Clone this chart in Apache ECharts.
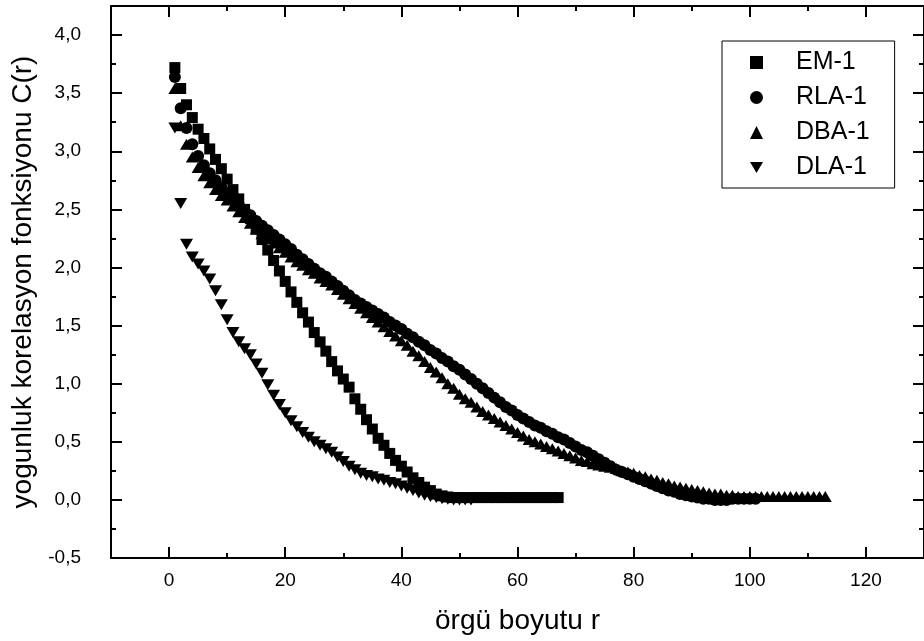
<!DOCTYPE html>
<html>
<head>
<meta charset="utf-8">
<script src="https://cdn.jsdelivr.net/npm/echarts@6/dist/echarts.min.js"></script>
<style>
  html, body { margin: 0; padding: 0; background: #fff; }
  #chart { width: 924px; height: 641px; }
</style>
</head>
<body>
<div id="chart"></div>
<script>
// C(r) values, one per lattice size r = 1, 2, 3 ...
const em1 = [3.72, 3.54, 3.40, 3.29, 3.19, 3.11, 3.02, 2.93, 2.85, 2.76,
  2.67, 2.59, 2.50, 2.42, 2.33, 2.24, 2.15, 2.06, 1.97, 1.88,
  1.79, 1.70, 1.61, 1.53, 1.44, 1.36, 1.28, 1.19, 1.11, 1.04,
  0.97, 0.87, 0.78, 0.69, 0.61, 0.53, 0.47, 0.40, 0.34, 0.29,
  0.24, 0.19, 0.15, 0.11, 0.08, 0.05, 0.035, 0.025, 0.02, 0.02,
  0.02, 0.02, 0.02, 0.02, 0.02, 0.02, 0.02, 0.02, 0.02, 0.02,
  0.02, 0.02, 0.02, 0.02, 0.02, 0.02, 0.02];

const rla1 = [3.64, 3.37, 3.20, 3.06, 2.96, 2.88, 2.81, 2.75, 2.69, 2.64,
  2.59, 2.54, 2.49, 2.45, 2.40, 2.36, 2.32, 2.28, 2.24, 2.20,
  2.16, 2.11, 2.07, 2.03, 1.99, 1.95, 1.92, 1.88, 1.84, 1.80,
  1.76, 1.72, 1.69, 1.66, 1.63, 1.60, 1.57, 1.53, 1.50, 1.47,
  1.43, 1.40, 1.36, 1.33, 1.29, 1.26, 1.22, 1.19, 1.15, 1.12,
  1.08, 1.04, 1.00, 0.96, 0.92, 0.88, 0.84, 0.80, 0.77, 0.73,
  0.70, 0.67, 0.64, 0.62, 0.59, 0.57, 0.54, 0.52, 0.49, 0.46,
  0.43, 0.41, 0.38, 0.35, 0.32, 0.29, 0.26, 0.24, 0.22, 0.20,
  0.18, 0.16, 0.14, 0.12, 0.10, 0.08, 0.07, 0.05, 0.04, 0.03,
  0.02, 0.01, 0.01, 0.00, 0.00, 0.00, 0.01, 0.01, 0.01, 0.01,
  0.01];

const dba1 = [3.54, 3.22, 3.06, 2.95, 2.86, 2.79, 2.73, 2.67, 2.62, 2.58,
  2.53, 2.48, 2.43, 2.38, 2.33, 2.29, 2.25, 2.21, 2.17, 2.13,
  2.09, 2.05, 2.02, 1.98, 1.95, 1.91, 1.88, 1.85, 1.81, 1.77,
  1.73, 1.69, 1.65, 1.61, 1.57, 1.53, 1.49, 1.45, 1.41, 1.37,
  1.33, 1.28, 1.24, 1.19, 1.14, 1.10, 1.05, 1.00, 0.96, 0.91,
  0.87, 0.84, 0.80, 0.76, 0.73, 0.70, 0.67, 0.64, 0.61, 0.58,
  0.55, 0.52, 0.50, 0.48, 0.46, 0.44, 0.42, 0.40, 0.38, 0.36,
  0.34, 0.33, 0.31, 0.30, 0.29, 0.28, 0.27, 0.25, 0.24, 0.23,
  0.21, 0.20, 0.18, 0.17, 0.15, 0.14, 0.12, 0.11, 0.10, 0.09,
  0.08, 0.07, 0.06, 0.05, 0.05, 0.04, 0.04, 0.03, 0.03, 0.03,
  0.03, 0.03, 0.03, 0.03, 0.03, 0.03, 0.03, 0.03, 0.03, 0.03,
  0.03, 0.03, 0.03];

const dla1 = [3.20, 2.55, 2.20, 2.09, 2.03, 1.97, 1.90, 1.80, 1.68, 1.55,
  1.44, 1.36, 1.30, 1.25, 1.17, 1.09, 0.99, 0.90, 0.82, 0.75,
  0.68, 0.63, 0.58, 0.54, 0.50, 0.47, 0.44, 0.41, 0.37, 0.33,
  0.29, 0.26, 0.23, 0.21, 0.20, 0.18, 0.17, 0.15, 0.14, 0.12,
  0.10, 0.08, 0.06, 0.04, 0.03, 0.02, 0.01, 0.005, 0.00, 0.00,
  0.00, 0.00];

const xMajor = [0, 20, 40, 60, 80, 100, 120];
const xMinor = [10, 30, 50, 70, 90, 110];
const yMajor = [-0.5, 0, 0.5, 1.0, 1.5, 2.0, 2.5, 3.0, 3.5, 4.0];
const yMinor = [-0.25, 0.25, 0.75, 1.25, 1.75, 2.25, 2.75, 3.25, 3.75];

const FONT = '"Liberation Sans", Arial, sans-serif';
const downTri = 'path://M0,0 L12,0 L6,10 Z';

function pts(vals) {
  return vals.map((v, i) => [i + 1, v]);
}

function xAx(pos, ticks, len, main) {
  return {
    type: 'value', position: pos, min: -10, max: 130,
    axisLine: { show: main, onZero: false, lineStyle: { color: '#000', width: 2 } },
    axisTick: { show: true, inside: true, length: len, customValues: ticks,
      lineStyle: { color: '#000', width: 2 } },
    axisLabel: { show: main && pos === 'bottom', customValues: ticks, margin: 13,
      color: '#000', fontSize: 19, fontFamily: FONT },
    splitLine: { show: false }
  };
}

function yAx(pos, ticks, len, main) {
  return {
    type: 'value', position: pos, min: -0.5, max: 4.25,
    axisLine: { show: main, onZero: false, lineStyle: { color: '#000', width: 2 } },
    axisTick: { show: true, inside: true, length: len, customValues: ticks,
      lineStyle: { color: '#000', width: 2 } },
    axisLabel: { show: main && pos === 'left', customValues: ticks, margin: 30,
      color: '#000', fontSize: 19, fontFamily: FONT,
      formatter: v => v.toFixed(1).replace('.', ',') },
    splitLine: { show: false }
  };
}

const xs = [xAx('bottom', xMajor, 11, true), xAx('bottom', xMinor, 5, false),
  xAx('top', xMajor, 11, true), xAx('top', xMinor, 5, false)];
xs[0].name = 'örgü boyutu r';
xs[0].nameLocation = 'middle';
xs[0].nameGap = 49;
xs[0].nameTextStyle = { color: '#000', fontSize: 28, fontFamily: FONT };

const ys = [yAx('left', yMajor, 11, true), yAx('left', yMinor, 5, false),
  yAx('right', yMajor, 11, true), yAx('right', yMinor, 5, false)];
ys[0].name = 'yogunluk korelasyon fonksiyonu C(r)';
ys[0].nameLocation = 'middle';
ys[0].nameGap = 66;
ys[0].nameTextStyle = { color: '#000', fontSize: 28, fontFamily: FONT };

const chart = echarts.init(document.getElementById('chart'), null, { renderer: 'canvas' });

const mark = { color: '#000', opacity: 1 };

chart.setOption({
  animation: false,
  backgroundColor: '#fff',
  grid: { left: 111, top: 6, width: 815, height: 552, containLabel: false },
  legend: {
    orient: 'vertical', left: 722, top: 41,
    padding: [9, 25, 8, 28], itemGap: 10,
    itemWidth: 13, itemHeight: 13,
    borderColor: '#000', borderWidth: 1,
    itemStyle: { opacity: 1 },
    textStyle: { color: '#000', fontSize: 25, lineHeight: 25, fontFamily: FONT,
      padding: [0, 0, 0, 28] },
    data: ['EM-1', 'RLA-1', 'DBA-1', 'DLA-1']
  },
  xAxis: xs,
  yAxis: ys,
  series: [
    { name: 'DLA-1', type: 'scatter', symbol: downTri, symbolSize: [13, 11],
      itemStyle: mark, data: pts(dla1) },
    { name: 'DBA-1', type: 'scatter', symbol: 'triangle', symbolSize: [13, 11],
      itemStyle: mark, data: pts(dba1) },
    { name: 'RLA-1', type: 'scatter', symbol: 'circle', symbolSize: 12,
      itemStyle: mark, data: pts(rla1) },
    { name: 'EM-1', type: 'scatter', symbol: 'rect', symbolSize: 11,
      itemStyle: mark, data: pts(em1) }
  ]
});
</script>
</body>
</html>
